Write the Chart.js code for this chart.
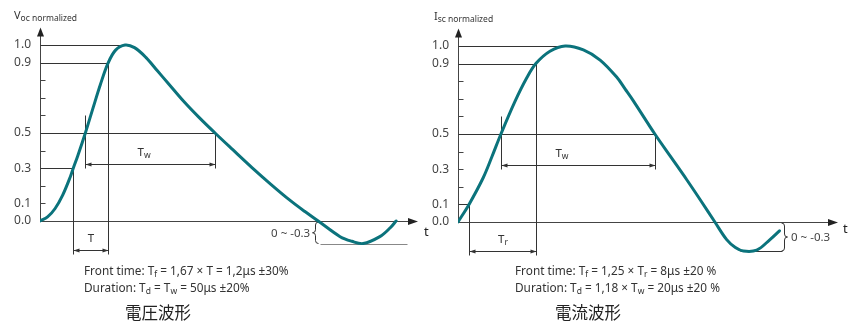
<!DOCTYPE html>
<html lang="ja">
<head>
<meta charset="utf-8">
<script src="https://cdn.jsdelivr.net/npm/chart.js@4.4.0/dist/chart.umd.min.js"></script>
<style>
  body { margin: 0; background: #fff; width: 850px; height: 325px; position: relative; overflow: hidden;
         font-family: "Noto Sans", "DejaVu Sans", sans-serif; color: #333; }
  .box { position: absolute; height: 325px; }
  #boxV { left: 0; top: 0; width: 440px; }
  #boxI { left: 418px; top: 1px; width: 432px; }
  .ylab { position: absolute; font-size: 11px; line-height: 14px; color: #333; white-space: nowrap; }
  .ylab sub { font-size: 8.5px; line-height: 0; vertical-align: -2px; }
  .cap { position: absolute; font-size: 11.8px; line-height: 16.5px; color: #333; white-space: nowrap; }
  .cap sub { font-size: 8.5px; line-height: 0; vertical-align: -2px; }
  .ttl { position: absolute; font-family: "Noto Sans CJK JP", sans-serif; font-size: 16.5px; line-height: 20px; color: #222; }
</style>
</head>
<body>
<div class="box" id="boxV"><canvas id="graphV" width="440" height="325"></canvas></div>
<div class="box" id="boxI"><canvas id="graphI" width="432" height="325"></canvas></div>

<div class="ylab" style="left:14px; top:8px">V<sub>oc normalized</sub></div>
<div class="ylab" style="left:434px; top:9px">I<sub>sc normalized</sub></div>

<div class="cap" style="left:84px; top:262px">Front time: T<sub>f</sub> = 1,67 × T = 1,2μs ±30%<br>Duration: T<sub>d</sub> = T<sub>w</sub> = 50μs ±20%</div>
<div class="cap" style="left:515px; top:262px">Front time: T<sub>f</sub> = 1,25 × T<sub>r</sub> = 8μs ±20 %<br>Duration: T<sub>d</sub> = 1,18 × T<sub>w</sub> = 20μs ±20 %</div>

<div class="ttl" style="left:125px; top:302px">電圧波形</div>
<div class="ttl" style="left:555px; top:302px">電流波形</div>

<script>
// voltage wave (time in relative units along the axis)
const voltT = [0, 2, 4, 6, 8, 8.8, 10, 12, 14, 16, 18, 20, 22.5, 25, 28, 31, 34, 38, 42, 46.3, 51, 56, 61, 66, 70, 73.6, 79.4, 82.5, 85.5, 89.9, 92.6, 94.2]
const voltV = [0, 0.023, 0.071, 0.147, 0.25, 0.30, 0.371, 0.50, 0.64, 0.777, 0.897, 0.971, 1.00, 0.985, 0.93, 0.855, 0.78, 0.68, 0.59, 0.50, 0.405, 0.305, 0.21, 0.12, 0.055, 0.00, -0.089, -0.115, -0.128, -0.089, -0.04, 0.00]

// current wave
const currT = [0, 2.9, 6.6, 9, 11.3, 15, 18, 20.5, 24.2, 28.2, 33, 37.4, 41.8, 44, 46.1, 51.8, 56, 60.2, 64, 67.6, 70.7, 73, 75.1, 78.6, 82.1, 84.6]
const currV = [0, 0.10, 0.25, 0.375, 0.50, 0.685, 0.815, 0.90, 0.97, 1.00, 0.978, 0.92, 0.822, 0.755, 0.69, 0.50, 0.37, 0.24, 0.118, 0.00, -0.10, -0.145, -0.165, -0.16, -0.10, -0.05]

// y ticks (every 0.1) and the ones that get a label
const yTicks = [0, 0.1, 0.2, 0.3, 0.4, 0.5, 0.6, 0.7, 0.8, 0.9, 1.0]
const yLabelled = [0, 0.1, 0.3, 0.5, 0.9, 1.0]

// front time levels for each wave
const voltFront = [0.3, 0.9]
const currFront = [0.1, 0.9]
const halfLevel = 0.5
const undershootText = '0 ~ -0.3'

const WAVE = '#0b737c'
const INK = '#333'

// where the curve passes a level (rising or falling side)
function crossAt(ts, vs, level, rising) {
    for (let i = 1; i < ts.length; i++) {
        let a = vs[i - 1], b = vs[i]
        let hit = rising ? (a <= level && b >= level && b > a) : (a >= level && b <= level && a > b)
        if (hit) return ts[i - 1] + (level - a) / (b - a) * (ts[i] - ts[i - 1])
    }
    return 0
}

function line(ctx, x1, y1, x2, y2) {
    ctx.beginPath()
    ctx.moveTo(x1, y1)
    ctx.lineTo(x2, y2)
    ctx.stroke()
}

function tri(ctx, pts) {
    ctx.beginPath()
    ctx.moveTo(pts[0], pts[1])
    ctx.lineTo(pts[2], pts[3])
    ctx.lineTo(pts[4], pts[5])
    ctx.closePath()
    ctx.fill()
}

// dimension line with small heads at both ends
function dimArrow(ctx, x1, x2, y) {
    line(ctx, x1, y, x2, y)
    tri(ctx, [x1, y, x1 + 6, y - 2, x1 + 6, y + 2])
    tri(ctx, [x2, y, x2 - 6, y - 2, x2 - 6, y + 2])
}

// curly brace, tip pointing left (dir -1) or right (dir 1)
function brace(ctx, x, y1, y2, dir) {
    let endX = x - 3 * dir, tipX = x + 3 * dir, m = (y1 + y2) / 2
    ctx.beginPath()
    ctx.moveTo(endX, y1)
    ctx.quadraticCurveTo(x, y1, x, y1 + 3)
    ctx.lineTo(x, m - 3)
    ctx.quadraticCurveTo(x, m, tipX, m)
    ctx.quadraticCurveTo(x, m, x, m + 3)
    ctx.lineTo(x, y2 - 3)
    ctx.quadraticCurveTo(x, y2, endX, y2)
    ctx.stroke()
}

function subLabel(ctx, main, sub, x, y) {
    ctx.font = '11.5px "Noto Sans", sans-serif'
    let w = ctx.measureText(main).width
    ctx.fillText(main, x, y)
    if (sub) {
        ctx.font = '8.5px "Noto Sans", sans-serif'
        ctx.fillText(sub, x + w, y + 2)
    }
}

function labelWidth(ctx, main, sub) {
    ctx.font = '11.5px "Noto Sans", sans-serif'
    let w = ctx.measureText(main).width
    ctx.font = '8.5px "Noto Sans", sans-serif'
    return w + (sub ? ctx.measureText(sub).width : 0)
}

function waveMarks(o) {
    return {
        id: 'waveMarks',
        beforeDatasetsDraw(chart) {
            const ctx = chart.ctx
            const xs = chart.scales.x, ys = chart.scales.y
            const X = v => Math.round(xs.getPixelForValue(v)) + 0.5
            const Y = v => Math.round(ys.getPixelForValue(v)) + 0.5
            const ts = o.ts, vs = o.vs

            let peakI = vs.indexOf(Math.max(...vs))
            let tPeak = ts[peakI], vPeak = vs[peakI]
            let tLo = crossAt(ts, vs, o.front[0], true)
            let tHi = crossAt(ts, vs, o.front[1], true)
            let tR = crossAt(ts, vs, halfLevel, true)
            let tF = crossAt(ts.slice(peakI), vs.slice(peakI), halfLevel, false)
            let vMin = Math.min(...vs)

            ctx.save()
            ctx.lineWidth = 1
            ctx.strokeStyle = '#444'
            ctx.fillStyle = '#222'

            // axes with arrow heads
            let x0 = X(0), y0 = Y(0)
            let top = ys.getPixelForValue(1.1)
            line(ctx, x0, y0, x0, top + 6)
            tri(ctx, [x0, top, x0 - 3.5, top + 9, x0 + 3.5, top + 9])
            let xEnd = xs.getPixelForValue(100)
            line(ctx, x0, y0, xEnd - 8, y0)
            tri(ctx, [xEnd, y0, xEnd - 10, y0 - 3.5, xEnd - 10, y0 + 3.5])
            yTicks.forEach(v => { if (v > 0) line(ctx, x0, Y(v), x0 + 5, Y(v)) })

            // reference lines
            ctx.strokeStyle = INK
            ctx.fillStyle = INK
            line(ctx, x0, Y(vPeak), X(tPeak), Y(vPeak))
            line(ctx, x0, Y(o.front[1]), X(tHi), Y(o.front[1]))
            line(ctx, x0, Y(halfLevel), X(tF), Y(halfLevel))
            line(ctx, x0, Y(o.front[0]), X(tLo), Y(o.front[0]))
            line(ctx, X(tLo), Y(o.front[0]), X(tLo), Y(-0.19))
            line(ctx, X(tHi), Y(o.front[1]), X(tHi), Y(-0.19))
            line(ctx, X(tR), Y(0.6), X(tR), Y(0.3))
            line(ctx, X(tF), Y(halfLevel), X(tF), Y(0.3))

            dimArrow(ctx, X(tR), X(tF), Y(0.325))
            dimArrow(ctx, X(tLo), X(tHi), Y(-0.165))

            ctx.textBaseline = 'alphabetic'
            ctx.textAlign = 'left'
            subLabel(ctx, 'T', 'w', X(tR) + o.twPos * (X(tF) - X(tR)), ys.getPixelForValue(0.37))
            let lw = labelWidth(ctx, 'T', o.frontSub)
            subLabel(ctx, 'T', o.frontSub, (X(tLo) + X(tHi)) / 2 - lw / 2, ys.getPixelForValue(-0.12))

            // undershoot range
            ctx.strokeStyle = o.minColor
            line(ctx, X(o.minLine[0]), Y(vMin), X(o.minLine[1]), Y(vMin))
            ctx.strokeStyle = '#333'
            brace(ctx, X(o.braceAt), ys.getPixelForValue(0) + 1, ys.getPixelForValue(vMin), o.braceDir)
            ctx.font = '11.5px "Noto Sans", sans-serif'
            ctx.fillStyle = '#444'
            ctx.textBaseline = 'middle'
            ctx.textAlign = o.braceDir < 0 ? 'right' : 'left'
            let tx = xs.getPixelForValue(o.braceAt) + (o.braceDir < 0 ? -5 : 7)
            ctx.fillText(undershootText, tx, (ys.getPixelForValue(0) + ys.getPixelForValue(vMin)) / 2 + 1)

            // time axis label
            ctx.font = '13px "Noto Sans", sans-serif'
            ctx.fillStyle = '#222'
            ctx.textAlign = 'left'
            ctx.fillText('t', xEnd + o.tOff[0], y0 + o.tOff[1])
            ctx.restore()
        }
    }
}

function makeChart(id, ts, vs, padTop, padRight, marks) {
    let pts = ts.map((t, i) => ({ x: t, y: vs[i] }))
    return new Chart(document.getElementById(id), {
        type: 'line',
        data: {
            datasets: [{
                data: pts,
                borderColor: WAVE,
                borderWidth: 3,
                borderCapStyle: 'round',
                tension: 0.35,
                pointRadius: 0,
                fill: false
            }]
        },
        options: {
            responsive: false,
            animation: false,
            events: [],
            layout: { padding: { left: 0, right: padRight, top: padTop, bottom: 325 - padTop - 246.4 } },
            plugins: { legend: { display: false }, tooltip: { enabled: false } },
            scales: {
                x: { type: 'linear', min: 0, max: 100, display: false },
                y: {
                    min: -0.3,
                    max: 1.1,
                    afterFit: s => { s.width = 40 },
                    afterBuildTicks: s => { s.ticks = yTicks.map(v => ({ value: v })) },
                    grid: { display: false, drawTicks: false },
                    border: { display: false },
                    ticks: {
                        autoSkip: false,
                        padding: 9,
                        color: '#444',
                        font: { family: '"Noto Sans", sans-serif', size: 12 },
                        callback: v => yLabelled.includes(v) ? v.toFixed(1) : ''
                    }
                }
            }
        },
        plugins: [waveMarks(marks)]
    })
}

makeChart('graphV', voltT, voltV, 27.4, 22, {
    ts: voltT, vs: voltV, front: voltFront, frontSub: '', twPos: 0.4,
    minLine: [74, 97.1], minColor: '#888', braceAt: 72.8, braceDir: -1, tOff: [6, 11]
})
makeChart('graphI', currT, currV, 27.4, 12, {
    ts: currT, vs: currV, front: currFront, frontSub: 'r', twPos: 0.35,
    minLine: [74.2, 85.3], minColor: '#333', braceAt: 85.8, braceDir: 1, tOff: [5, 7]
})
</script>
</body>
</html>
